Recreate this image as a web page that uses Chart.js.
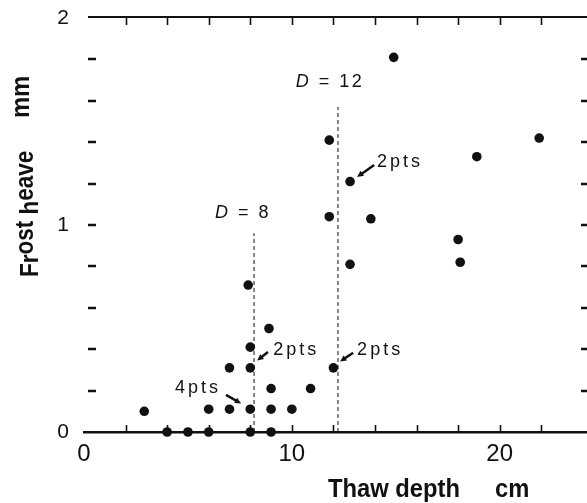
<!DOCTYPE html>
<html>
<head>
<meta charset="utf-8">
<script src="https://cdn.jsdelivr.net/npm/chart.js@4.4.1/dist/chart.umd.min.js"></script>
<style>
  html, body { margin: 0; padding: 0; background: #fff; }
</style>
</head>
<body>
<canvas id="heaveChart" width="587" height="503"></canvas>
<script>
/* ── Data (thaw depth cm / frost heave mm) ── */
const thawDepth = [4, 5, 6, 8, 9, 2.9, 6, 7, 8, 9, 10, 9, 10.9, 7, 8, 12, 8, 8.9, 7.9,
  12.8, 18.1, 18, 11.8, 13.8, 12.8, 18.9, 11.8, 21.9, 14.9];
const frostHeave = [0, 0, 0, 0, 0, 0.1, 0.11, 0.11, 0.11, 0.11, 0.11, 0.21, 0.21, 0.31,
  0.31, 0.31, 0.41, 0.5, 0.71, 0.81, 0.82, 0.93, 1.04, 1.03, 1.21, 1.33, 1.41, 1.42, 1.81];

/* D lines */
const dValues = [8, 12];
const dLineX = [8.18, 12.22];
const dLineTop = [0.96, 1.57];

/* ── Axis ticks ── */
const xTickLabels = [0, 10, 20];
const yTickLabels = [0, 1, 2];
const xMinorTicks = [2, 4, 6, 8, 10, 12, 14, 16, 18, 20, 22];
const yMinorTicks = [0.2, 0.4, 0.6, 0.8, 1, 1.2, 1.4, 1.6, 1.8];

const INK = "#111";
const FONT = "'Liberation Sans', Arial, sans-serif";

/* ── Callouts (data units) ── */
const callouts = [
  { text: "2pts", x: 14.10, y: 1.304, from: [13.96, 1.29], to: [13.14, 1.232] },
  { text: "2pts", x: 9.10, y: 0.396, from: [8.85, 0.386], to: [8.33, 0.345] },
  { text: "2pts", x: 13.14, y: 0.396, from: [12.95, 0.383], to: [12.32, 0.341] },
  { text: "4pts", x: 4.38, y: 0.213, from: [6.83, 0.179], to: [7.56, 0.138] },
];
const dLabelPos = [[7.65, 1.058], [11.84, 1.691]];

function spaced(ctx, text, x, y, sp) {
  ctx.letterSpacing = sp + "px";
  ctx.fillText(text, x, y);
  const w = ctx.measureText(text).width;
  ctx.letterSpacing = "0px";
  return w;
}

function arrow(ctx, x1, y1, x2, y2) {
  const a = Math.atan2(y2 - y1, x2 - x1);
  const head = 7;
  ctx.lineWidth = 2.5;
  ctx.beginPath();
  ctx.moveTo(x1, y1);
  ctx.lineTo(x2 - Math.cos(a) * head * 0.7, y2 - Math.sin(a) * head * 0.7);
  ctx.stroke();
  ctx.beginPath();
  ctx.moveTo(x2, y2);
  ctx.lineTo(x2 - head * Math.cos(a - 0.45), y2 - head * Math.sin(a - 0.45));
  ctx.lineTo(x2 - head * Math.cos(a + 0.45), y2 - head * Math.sin(a + 0.45));
  ctx.closePath();
  ctx.fill();
}

/* ── Frame, inward ticks, titles and notes ── */
const framePlugin = {
  id: "frame",
  afterDraw(chart) {
    const { ctx, chartArea: ca } = chart;
    const xs = chart.scales.x;
    const ys = chart.scales.y;
    ctx.save();
    ctx.strokeStyle = INK;
    ctx.fillStyle = INK;

    // top border
    ctx.lineWidth = 2;
    ctx.beginPath();
    ctx.moveTo(ca.left + 4, ca.top - 1);
    ctx.lineTo(ca.right, ca.top - 1);
    ctx.stroke();

    // top & bottom ticks
    ctx.lineWidth = 1.6;
    xMinorTicks.forEach((v) => {
      const px = Math.round(xs.getPixelForValue(v)) + 0.5;
      ctx.beginPath();
      ctx.moveTo(px, ca.top - 1);
      ctx.lineTo(px, ca.top + 7);
      ctx.moveTo(px, ca.bottom);
      ctx.lineTo(px, ca.bottom - 7);
      ctx.stroke();
    });

    // left & right ticks
    ctx.lineWidth = 2.5;
    yMinorTicks.forEach((v) => {
      const py = Math.round(ys.getPixelForValue(v));
      ctx.beginPath();
      ctx.moveTo(ca.left + 4, py);
      ctx.lineTo(ca.left + 12, py);
      ctx.moveTo(ca.right - 6, py);
      ctx.lineTo(ca.right, py);
      ctx.stroke();
    });

    // D labels
    ctx.textBaseline = "middle";
    ctx.textAlign = "left";
    dValues.forEach((d, i) => {
      const cx = xs.getPixelForValue(dLabelPos[i][0]);
      const cy = ys.getPixelForValue(dLabelPos[i][1]);
      ctx.font = "italic 18px " + FONT;
      const wD = ctx.measureText("D").width + 2.5;
      ctx.font = "18px " + FONT;
      ctx.letterSpacing = "2.5px";
      const rest = " = " + d;
      const wR = ctx.measureText(rest).width;
      ctx.letterSpacing = "0px";
      const x0 = cx - (wD + wR) / 2;
      ctx.font = "italic 18px " + FONT;
      spaced(ctx, "D", x0, cy, 2.5);
      ctx.font = "18px " + FONT;
      spaced(ctx, rest, x0 + wD, cy, 2.5);
    });

    // callouts
    ctx.font = "18px " + FONT;
    callouts.forEach((c) => {
      spaced(ctx, c.text, xs.getPixelForValue(c.x), ys.getPixelForValue(c.y), 3);
      arrow(ctx,
        xs.getPixelForValue(c.from[0]), ys.getPixelForValue(c.from[1]),
        xs.getPixelForValue(c.to[0]), ys.getPixelForValue(c.to[1]));
    });

    // x title
    ctx.textBaseline = "alphabetic";
    ctx.font = "bold 25px " + FONT;
    ctx.save();
    ctx.translate(328, 497);
    ctx.scale(0.95, 1);
    ctx.fillText("Thaw depth", 0, 0);
    ctx.restore();
    ctx.save();
    ctx.translate(495, 497);
    ctx.scale(0.95, 1);
    ctx.fillText("cm", 0, 0);
    ctx.restore();

    // y title (wavy baseline like the original lettering)
    const parts = [["Fr", 38], ["ost", 33], [" h", 38], ["eave", 33]];
    ctx.save();
    ctx.translate(0, 277);
    ctx.rotate(-Math.PI / 2);
    ctx.scale(0.9, 1);
    let pos = 0;
    parts.forEach(([t, base]) => {
      ctx.fillText(t, pos, base);
      pos += ctx.measureText(t).width;
    });
    ctx.restore();
    ctx.save();
    ctx.translate(0, 118);
    ctx.rotate(-Math.PI / 2);
    ctx.scale(0.95, 1);
    ctx.fillText("mm", 0, 29);
    ctx.restore();

    ctx.restore();
  },
};

/* ── Chart ── */
const ctx = document.getElementById("heaveChart").getContext("2d");
new Chart(ctx, {
  type: "scatter",
  data: {
    datasets: [
      {
        label: "Frost heave",
        data: thawDepth.map((x, i) => ({ x, y: frostHeave[i] })),
        backgroundColor: INK,
        borderWidth: 0,
        pointRadius: 4.8,
        clip: false,
      },
      ...dLineX.map((x, i) => ({
        label: "D = " + dValues[i],
        type: "line",
        data: [{ x, y: 0 }, { x, y: dLineTop[i] }],
        borderColor: INK,
        borderWidth: 1,
        borderDash: [4, 3],
        pointRadius: 0,
        fill: false,
      })),
    ],
  },
  options: {
    responsive: false,
    animation: false,
    devicePixelRatio: 1,
    layout: { autoPadding: false, padding: { top: 18, right: 0, left: 0, bottom: 0 } },
    plugins: {
      legend: { display: false },
      tooltip: { enabled: false },
    },
    scales: {
      x: {
        type: "linear",
        min: 0,
        max: 24.2,
        afterBuildTicks: (s) => {
          s.ticks = xTickLabels.map((v) => ({ value: v }));
        },
        afterFit: (s) => {
          s.height = 71;
          s.paddingLeft = 0;
          s.paddingRight = 0;
        },
        grid: { display: false, drawTicks: false },
        border: { display: true, color: INK, width: 2.5 },
        ticks: {
          color: INK,
          padding: 8,
          maxRotation: 0,
          autoSkip: false,
          font: { family: FONT, size: 24 },
        },
      },
      y: {
        type: "linear",
        min: 0,
        max: 2,
        afterBuildTicks: (s) => {
          s.ticks = yTickLabels.map((v) => ({ value: v }));
        },
        afterFit: (s) => {
          s.width = 84;
          s.paddingTop = 0;
          s.paddingBottom = 0;
        },
        grid: { display: false, drawTicks: false },
        border: { display: false },
        ticks: {
          color: INK,
          padding: 15,
          font: { family: FONT, size: 21 },
        },
      },
    },
  },
  plugins: [framePlugin],
});
</script>
</body>
</html>
